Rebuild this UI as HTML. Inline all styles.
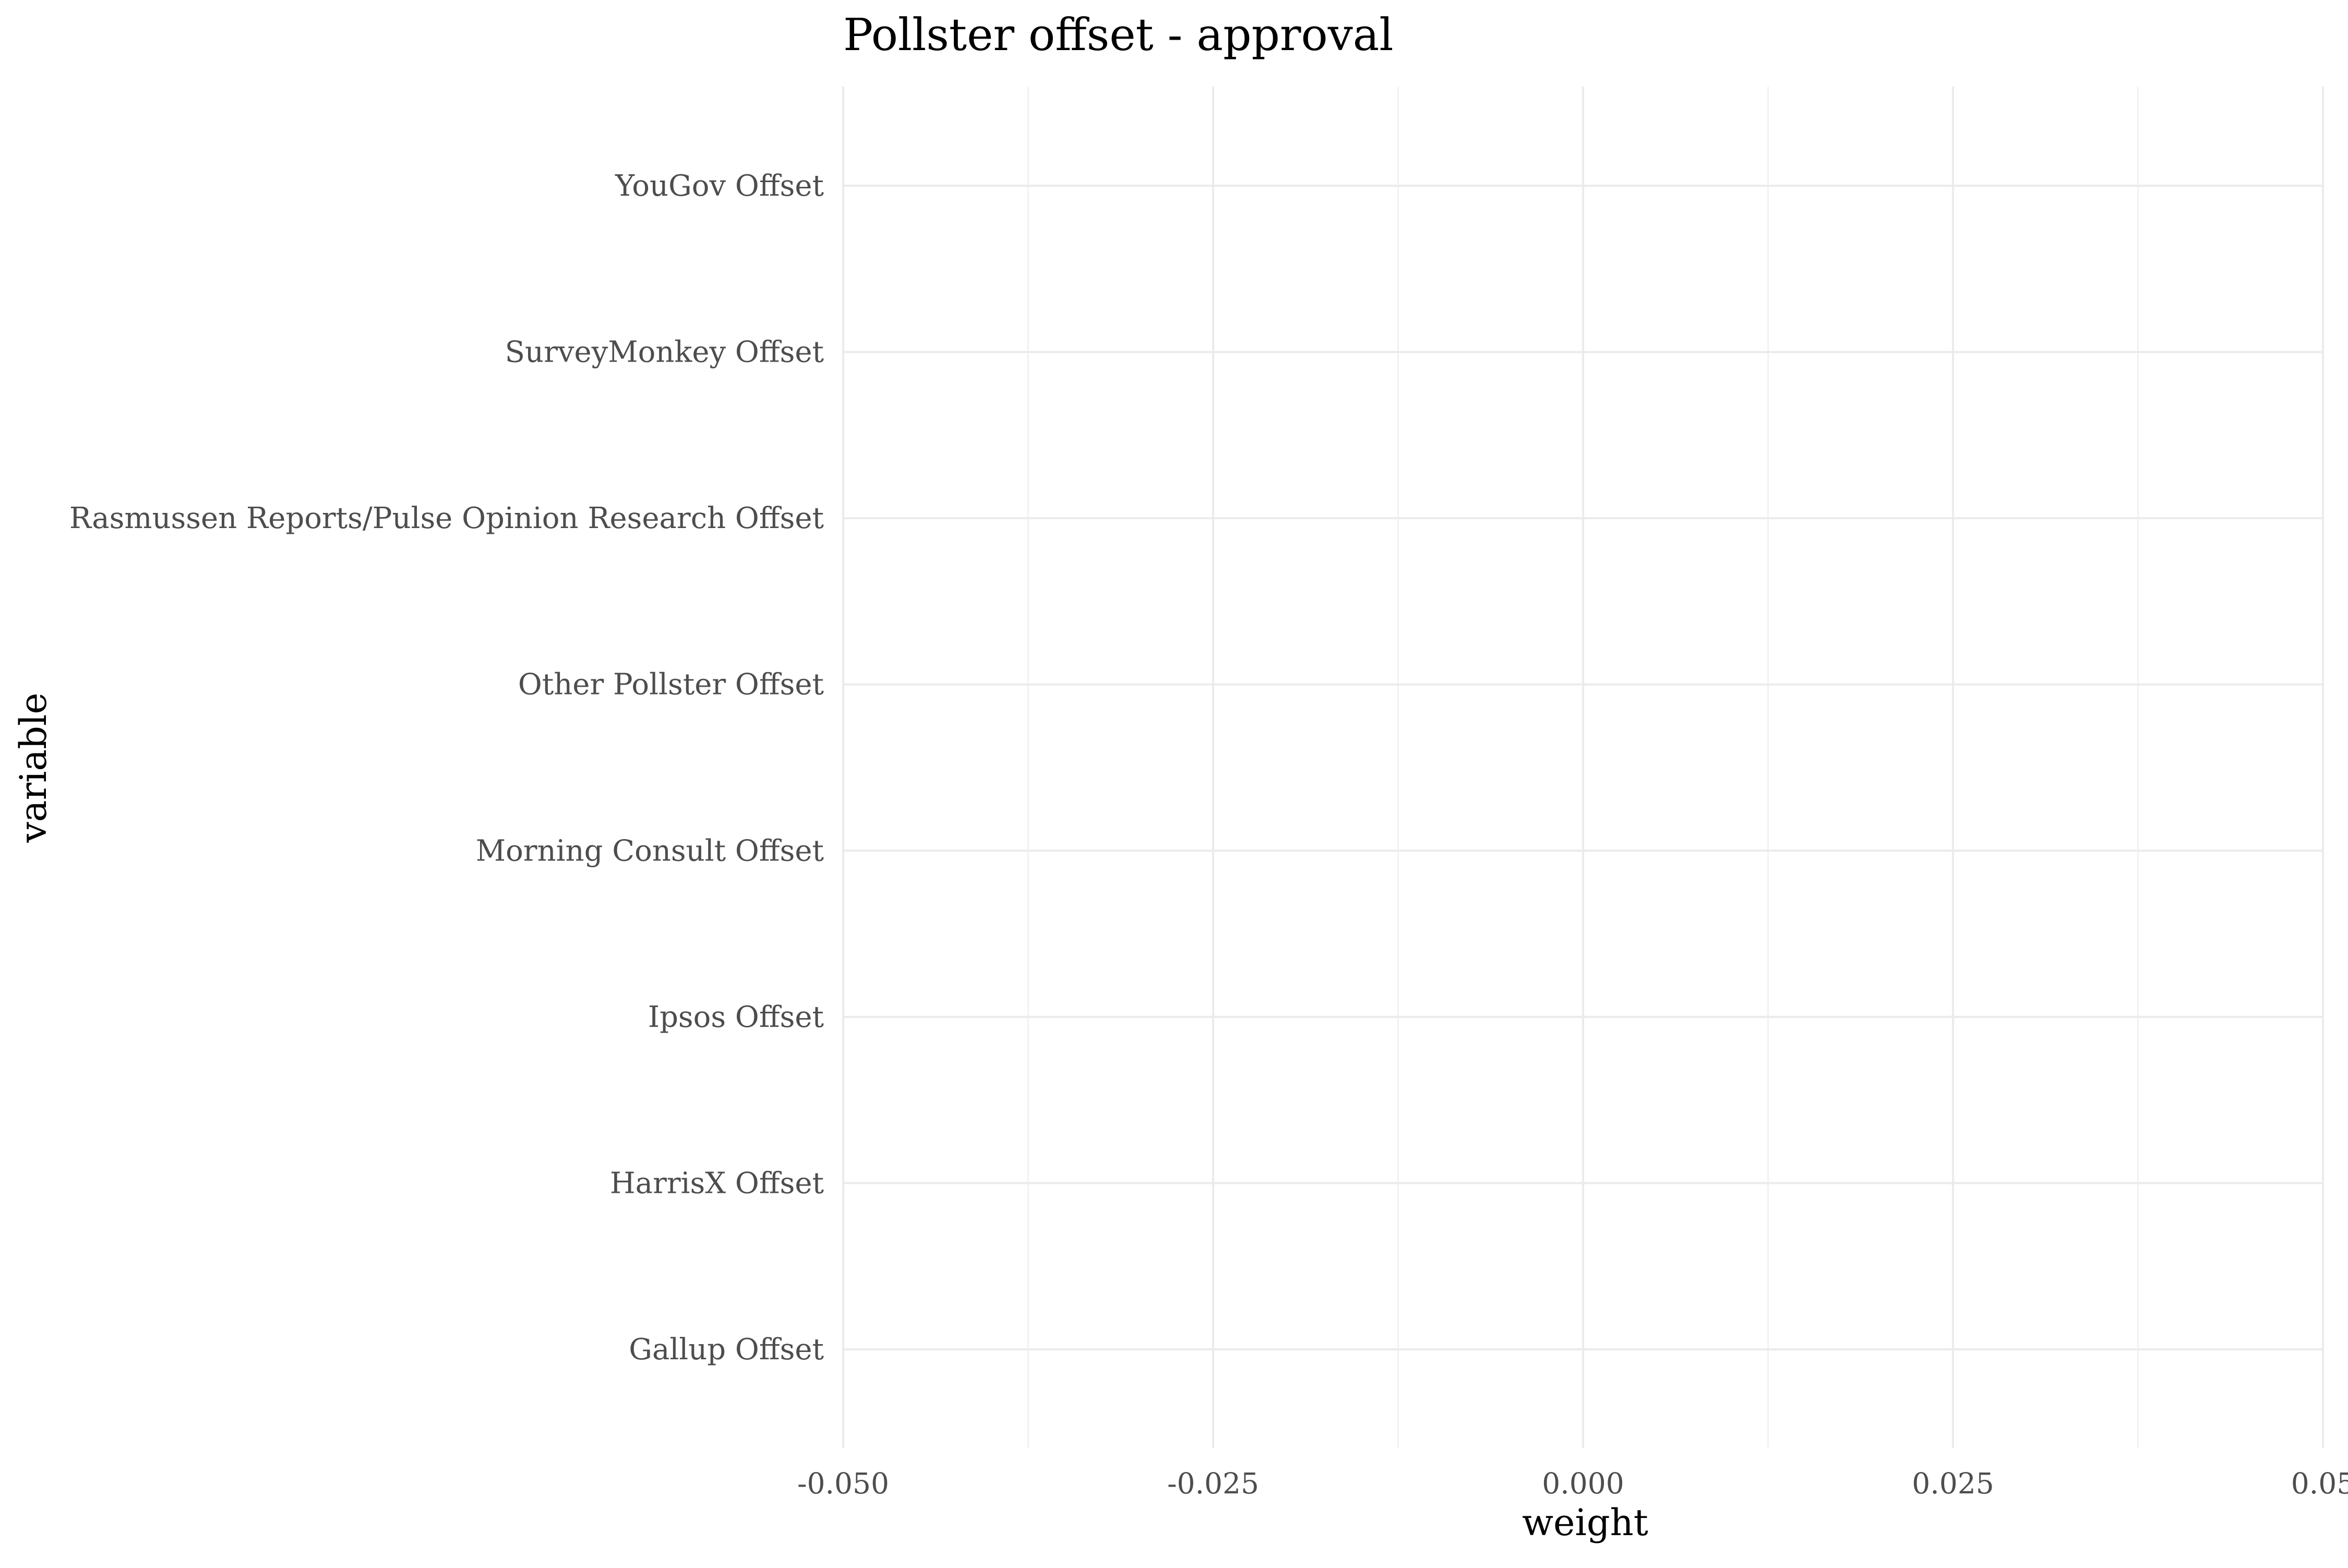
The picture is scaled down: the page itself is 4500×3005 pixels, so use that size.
<!DOCTYPE html>
<html><head><meta charset="utf-8"><style>
body{margin:0;background:#fff}
svg text{font-family:"DejaVu Serif","Liberation Serif",serif}
</style></head><body>
<svg id="chart" width="4500" height="3000" viewBox="0 0 4500 3000" xmlns="http://www.w3.org/2000/svg">
<rect width="4500" height="3000" fill="#fff"/>
<g id="grid"></g><g id="ylabels"></g><g id="xlabels"></g>
<text x="1616" y="96" font-size="85" fill="#000">Pollster offset - approval</text>
<text x="3038" y="2942" font-size="70" text-anchor="middle" fill="#000">weight</text>
<text transform="translate(88,1471) rotate(-90)" font-size="70" text-anchor="middle" fill="#000">variable</text>
</svg>
<script>
const categories = ["Gallup Offset","HarrisX Offset","Ipsos Offset","Morning Consult Offset","Other Pollster Offset","Rasmussen Reports/Pulse Opinion Research Offset","SurveyMonkey Offset","YouGov Offset"];
const xTicks = [-0.05,-0.025,0,0.025,0.05];
const xTickLabels = ["-0.050","-0.025","0.000","0.025","0.05"];
const xMin=-0.05,xMax=0.05,L=1616,R=4452,T=166,B=2775;
const xs=v=>L+(v-xMin)/(xMax-xMin)*(R-L);
const yFirst=2586,yLast=356;
const ys=i=>yFirst+(yLast-yFirst)*i/(categories.length-1);
const NS="http://www.w3.org/2000/svg";
const g=document.getElementById('grid'),yl=document.getElementById('ylabels'),xl=document.getElementById('xlabels');
function ln(x1,y1,x2,y2,w){const l=document.createElementNS(NS,'line');l.setAttribute('x1',x1);l.setAttribute('y1',y1);l.setAttribute('x2',x2);l.setAttribute('y2',y2);l.setAttribute('stroke','#ebebeb');l.setAttribute('stroke-width',w);g.appendChild(l);return l;}
for(let i=0;i<xTicks.length-1;i++){
  const l=ln(xs((xTicks[i]+xTicks[i+1])/2),T,xs((xTicks[i]+xTicks[i+1])/2),B,2);
  
  
}
xTicks.forEach((v,i)=>{
  const l=ln(xs(v),T,xs(v),B,4);
  
  
  const t=document.createElementNS(NS,'text');
  t.setAttribute('x',xs(v));t.setAttribute('y',2862);t.setAttribute('font-size','55');t.setAttribute('fill','#4d4d4d');t.setAttribute('text-anchor','middle');
  t.textContent=xTickLabels[i];
  
  
  xl.appendChild(t);
});
categories.forEach((c,i)=>{
  const l=ln(L,ys(i),R,ys(i),4);
  
  
  const t=document.createElementNS(NS,'text');
  t.setAttribute('x',1579);t.setAttribute('y',ys(i)+19);t.setAttribute('font-size','56');t.setAttribute('fill','#4d4d4d');t.setAttribute('text-anchor','end');
  t.textContent=c;
  
  
  yl.appendChild(t);
});
</script>
</body></html>
